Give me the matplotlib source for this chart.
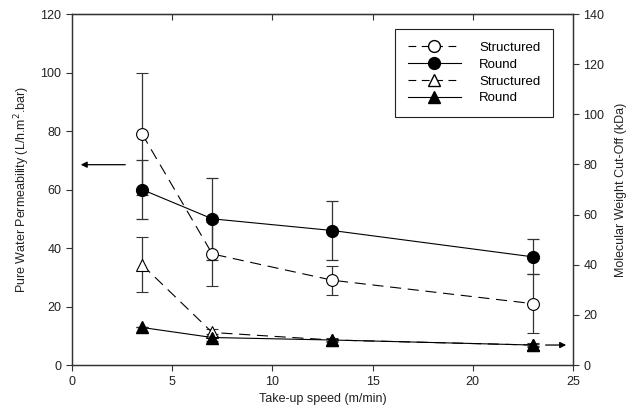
import matplotlib.pyplot as plt
from matplotlib.lines import Line2D

plt.rcParams['font.family'] = ['Liberation Sans', 'DejaVu Sans']
plt.rcParams['font.size'] = 9

# take-up speed (m/min)
speed = [3.5, 7, 13, 23]

# pure water permeability (left axis)
pwp_struct = [79, 38, 29, 21]
pwp_struct_err = [21, 11, 5, 10]
pwp_round = [60, 50, 46, 37]
pwp_round_err = [10, 14, 10, 6]

# molecular weight cut-off (right axis)
mwco_struct = [40, 13, 10, 8]
mwco_struct_err = [11, 1.5, 0.8, 0.8]
mwco_round = [15, 11, 10, 8]
mwco_round_err = [0, 1.5, 0.5, 0.5]

fig = plt.figure(figsize=(6.33, 4.13), dpi=100)
ax = fig.add_axes([0.1137, 0.116, 0.7914, 0.85])
ax2 = ax.twinx()

ekw = dict(ecolor='#333333', elinewidth=0.9, capsize=4.5, capthick=0.9)
dash = (0, (10, 6))

ax.errorbar(speed, pwp_struct, yerr=pwp_struct_err, color='black', lw=0.8,
            ls=dash, marker='o', ms=8.5, mfc='white', mec='black', mew=0.8, **ekw)
ax.errorbar(speed, pwp_round, yerr=pwp_round_err, color='black', lw=0.8,
            ls='-', marker='o', ms=8.5, mfc='black', mec='black', **ekw)
ax2.errorbar(speed, mwco_struct, yerr=mwco_struct_err, color='black', lw=0.8,
             ls=dash, marker='^', ms=8.5, mfc='white', mec='black', mew=0.8, **ekw)
ax2.errorbar(speed, mwco_round, yerr=mwco_round_err, color='black', lw=0.8,
             ls='-', marker='^', ms=8.5, mfc='black', mec='black', **ekw)

# arrows pointing to the relevant axis
ax.annotate('', xy=(0.3, 68.5), xytext=(2.8, 68.5),
            arrowprops=dict(arrowstyle='-|>', color='black', lw=0.9, mutation_scale=9))
ax2.annotate('', xy=(24.8, 8), xytext=(23.5, 8),
             arrowprops=dict(arrowstyle='-|>', color='black', lw=0.9, mutation_scale=9))

ax.set_xlim(0, 25)
ax.set_ylim(0, 120)
ax2.set_ylim(0, 140)
ax.set_xticks([0, 5, 10, 15, 20, 25])
ax.set_yticks(range(0, 121, 20))
ax2.set_yticks(range(0, 141, 20))

tc = '#222222'
ax.set_xlabel('Take-up speed (m/min)', color=tc, labelpad=4)
ax.set_ylabel('Pure Water Permeability (L/h.m$^2$.bar)', color=tc, labelpad=6)
ax2.set_ylabel('Molecular Weight Cut-Off (kDa)', color=tc, labelpad=8)

for a in (ax, ax2):
    for s in a.spines.values():
        s.set_color('#333333')
        s.set_linewidth(0.9)
ax.tick_params(direction='out', length=4, width=0.8, colors='#333333', labelcolor=tc)
ax2.tick_params(direction='out', length=4, width=0.8, colors='#333333', labelcolor=tc)
top = ax.secondary_xaxis('top')
top.set_xticks([5, 10, 15, 20])
top.tick_params(direction='in', length=4, width=0.8, colors='#333333', labeltop=False)

handles = [
    Line2D([], [], color='black', lw=0.8, ls=(0, (7, 5)), marker='o', ms=8.5, mfc='white', mec='black'),
    Line2D([], [], color='black', lw=0.8, ls='-', marker='o', ms=8.5, mfc='black'),
    Line2D([], [], color='black', lw=0.8, ls=(0, (7, 5)), marker='^', ms=8.5, mfc='white', mec='black'),
    Line2D([], [], color='black', lw=0.8, ls='-', marker='^', ms=8.5, mfc='black'),
]
labels = ['Structured', 'Round', 'Structured', 'Round']
leg = ax2.legend(handles, labels, loc='upper right', bbox_to_anchor=(0.96, 0.957),
                 borderaxespad=0, fancybox=False, framealpha=1, edgecolor='#222222',
                 handlelength=4.0, handletextpad=1.4, borderpad=0.95,
                 labelspacing=0.35, fontsize=9.5)
leg.get_frame().set_linewidth(0.8)

fig.savefig('out.png', dpi=100)
